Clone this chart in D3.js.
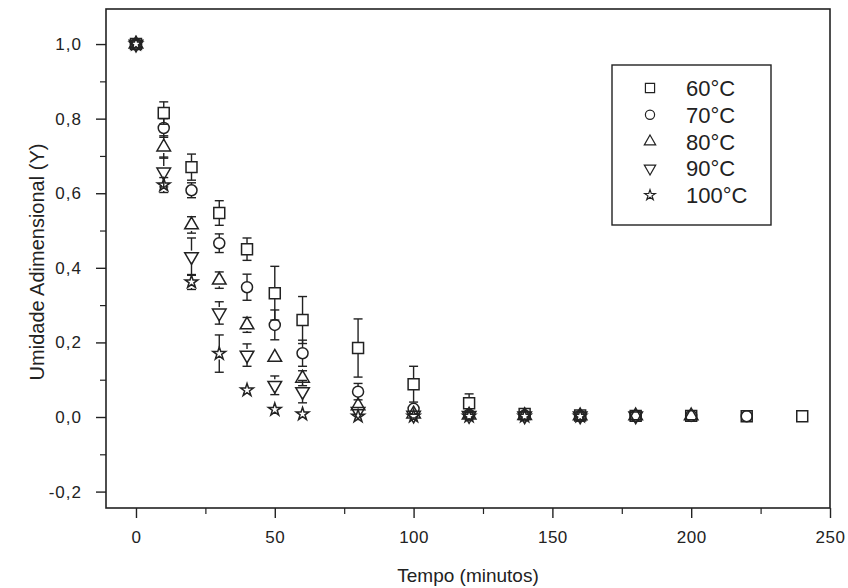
<!DOCTYPE html>
<html>
<head>
<meta charset="utf-8">
<script src="https://cdn.jsdelivr.net/npm/d3@7"></script>
<style>
  body { margin: 0; background: #fff; }
  text { font-family: "Liberation Sans", Arial, sans-serif; fill: #222; }
</style>
</head>
<body>
<div id="chart"></div>
<script>
// tempo (minutos)
var tempo = [0, 10, 20, 30, 40, 50, 60, 80, 100, 120, 140, 160, 180, 200, 220, 240];

var y60  = [1.0, 0.815, 0.67, 0.547, 0.45, 0.332, 0.26, 0.185, 0.088, 0.037, 0.008, 0.004, 0.003, 0.003, 0.002, 0.002];
var e60  = [0, 0.03, 0.035, 0.033, 0.03, 0.072, 0.063, 0.078, 0.048, 0.025, 0.005, 0, 0, 0, 0, 0];
var y70  = [1.0, 0.775, 0.608, 0.466, 0.348, 0.247, 0.171, 0.068, 0.022, 0.006, 0.004, 0.003, 0.003, 0.003, 0.002];
var e70  = [0, 0.025, 0.02, 0.025, 0.035, 0.04, 0.035, 0.022, 0.01, 0.005, 0, 0, 0, 0, 0];
var y80  = [1.0, 0.724, 0.515, 0.367, 0.247, 0.16, 0.104, 0.03, 0.008, 0.005, 0.004, 0.003, 0.003, 0.003];
var e80  = [0, 0.03, 0.022, 0.022, 0.02, 0.018, 0.02, 0.01, 0.005, 0, 0, 0, 0, 0];
var y90  = [1.0, 0.657, 0.43, 0.279, 0.166, 0.085, 0.068, 0.015, 0.005, 0.004, 0.003, 0.003, 0.003];
var e90  = [0, 0.04, 0.05, 0.03, 0.03, 0.025, 0.03, 0.01, 0, 0, 0, 0, 0];
var y100 = [1.0, 0.622, 0.362, 0.17, 0.072, 0.02, 0.008, 0.002, 0.002, 0.002, 0.002, 0.002];
var e100 = [0, 0.02, 0.02, 0.05, 0.015, 0.008, 0.005, 0.005, 0, 0, 0, 0];

var series_names = ["60°C", "70°C", "80°C", "90°C", "100°C"];
var x_ticks = [0, 50, 100, 150, 200, 250];
var y_ticks = [-0.2, 0, 0.2, 0.4, 0.6, 0.8, 1.0];

var width = 848, height = 588;
var m_left = 106, m_right = 830, m_top = 9, m_bottom = 508;

var svg = d3.select("#chart").append("svg")
    .attr("width", width)
    .attr("height", height);

var x = d3.scaleLinear().domain([-10.8, 250]).range([m_left, m_right]);
var y = d3.scaleLinear().domain([-0.244, 1.094]).range([m_bottom, m_top]);

var fmt = function(d){ return d3.format(".1f")(d).replace(".", ",").replace("−", "-"); };

// frame
svg.append("rect")
    .attr("x", m_left).attr("y", m_top)
    .attr("width", m_right - m_left).attr("height", m_bottom - m_top)
    .attr("fill", "none").attr("stroke", "#222").attr("stroke-width", 1.6);

// x axis
var xAxis = d3.axisBottom(x).tickValues(x_ticks).tickSize(10).tickPadding(13).tickFormat(d3.format("d"));
var gx = svg.append("g").attr("transform", "translate(0," + m_bottom + ")").call(xAxis);
gx.select(".domain").remove();
gx.selectAll("line").attr("stroke", "#222").attr("stroke-width", 1.4);
gx.selectAll("text").style("font-size", "17px").style("letter-spacing", "0.5px").attr("fill", "#222");
var gxm = svg.append("g").attr("transform", "translate(0," + m_bottom + ")")
    .call(d3.axisBottom(x).tickValues([25, 75, 125, 175, 225]).tickSize(6).tickFormat(""));
gxm.select(".domain").remove();
gxm.selectAll("line").attr("stroke", "#222").attr("stroke-width", 1.2);

// y axis
var yAxis = d3.axisLeft(y).tickValues(y_ticks).tickSize(10).tickPadding(14).tickFormat(fmt);
var gy = svg.append("g").attr("transform", "translate(" + m_left + ",0)").call(yAxis);
gy.select(".domain").remove();
gy.selectAll("line").attr("stroke", "#222").attr("stroke-width", 1.4);
gy.selectAll("text").style("font-size", "17px").style("letter-spacing", "1px").attr("fill", "#222");
var gym = svg.append("g").attr("transform", "translate(" + m_left + ",0)")
    .call(d3.axisLeft(y).tickValues([-0.1, 0.1, 0.3, 0.5, 0.7, 0.9]).tickSize(6).tickFormat(""));
gym.select(".domain").remove();
gym.selectAll("line").attr("stroke", "#222").attr("stroke-width", 1.2);

// titles
svg.append("text")
    .attr("x", 468).attr("y", 582)
    .attr("text-anchor", "middle")
    .style("font-size", "19px")
    .text("Tempo (minutos)");
svg.append("text")
    .attr("transform", "translate(44,262) rotate(-90)")
    .attr("text-anchor", "middle")
    .style("font-size", "20px")
    .text("Umidade Adimensional (Y)");

// symbols
var sym_types = [d3.symbolSquare, d3.symbolCircle, d3.symbolTriangle, d3.symbolTriangle, d3.symbolStar];
var sym_size = [120, 95, 80, 80, 50];
var sym_rot = [0, 0, 0, 180, 0];
var sym_half = [5.5, 5.5, 6, 6, 6];

var all_y = [y60, y70, y80, y90, y100];
var all_e = [e60, e70, e80, e90, e100];

var plot = svg.append("g");

all_y.forEach(function(vals, s){
  var data = vals.map(function(v, i){ return {t: tempo[i], v: v, e: all_e[s][i]}; });
  var g = plot.append("g");

  // error bars (gap around the symbol)
  data.forEach(function(d){
    var yc = y(d.v), dy = y(d.v - d.e) - yc;
    if (dy <= sym_half[s] + 1) return;
    var xc = x(d.t);
    [-1, 1].forEach(function(dir){
      g.append("line")
        .attr("x1", xc).attr("x2", xc)
        .attr("y1", yc + dir * sym_half[s]).attr("y2", yc + dir * dy)
        .attr("stroke", "#222").attr("stroke-width", 1.4);
      g.append("line")
        .attr("x1", xc - 4.5).attr("x2", xc + 4.5)
        .attr("y1", yc + dir * dy).attr("y2", yc + dir * dy)
        .attr("stroke", "#222").attr("stroke-width", 1.4);
    });
  });

  g.selectAll("path.pt")
    .data(data)
    .enter().append("path")
    .attr("class", "pt")
    .attr("d", d3.symbol().type(sym_types[s]).size(sym_size[s]))
    .attr("transform", function(d){ return "translate(" + x(d.t) + "," + y(d.v) + ") rotate(" + sym_rot[s] + ")"; })
    .attr("fill", "none")
    .attr("stroke", "#222")
    .attr("stroke-width", 1.5);
});

// legend
var lg = svg.append("g");
lg.append("rect")
    .attr("x", 612).attr("y", 65).attr("width", 159).attr("height", 160)
    .attr("fill", "#fff").attr("stroke", "#222").attr("stroke-width", 1.4);
series_names.forEach(function(name, s){
  var yy = 88 + s * 26.8;
  lg.append("path")
    .attr("d", d3.symbol().type(sym_types[s]).size(sym_size[s] * 0.7))
    .attr("transform", "translate(650," + yy + ") rotate(" + sym_rot[s] + ")")
    .attr("fill", "none").attr("stroke", "#222").attr("stroke-width", 1.2);
  lg.append("text")
    .attr("x", 686).attr("y", yy + 8)
    .style("font-size", "22px")
    .text(name);
});
</script>
</body>
</html>
